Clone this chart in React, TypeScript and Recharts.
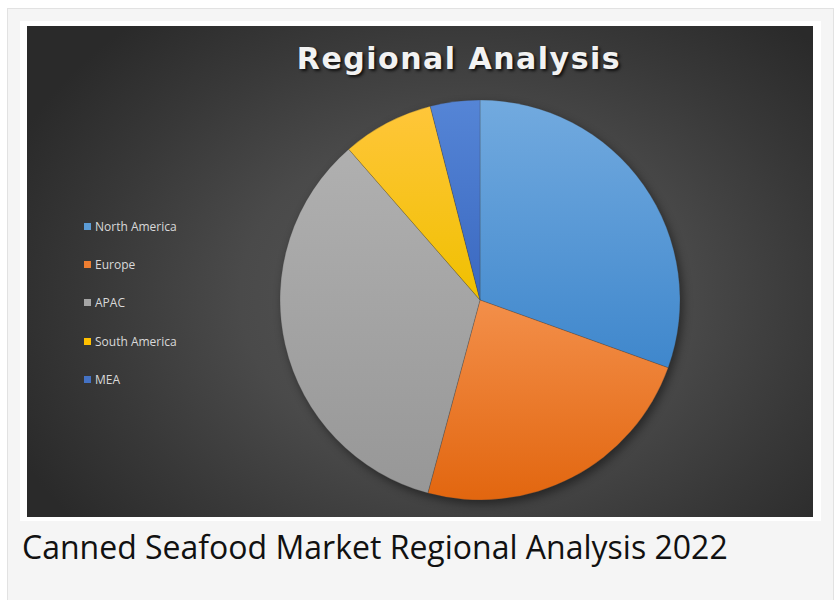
import { Cell, Pie, PieChart } from "recharts";

const regions = ["North America", "Europe", "APAC", "South America", "MEA"];
const shares = [30.5, 23.7, 34.4, 7.4, 4.0];
const swatchColors = ["#5B9BD5", "#ED7D31", "#A5A5A5", "#FFC000", "#4472C4"];
const gradientTops = ["#72aadf", "#f38f4a", "#b0b0b0", "#ffc63a", "#5585d6"];
const gradientBottoms = ["#3f87cc", "#e2660f", "#979797", "#f0c000", "#3a68c0"];

const CHART_LEFT = 27;
const CHART_TOP = 26;
const CHART_W = 786;
const CHART_H = 491;

export default function App() {
  const data = regions.map((name, i) => ({ name, value: shares[i] }));

  return (
    <div
      style={{
        position: "absolute",
        left: 0,
        top: 0,
        width: 836,
        height: 600,
        background: "#ffffff",
        overflow: "hidden",
      }}
    >
      {/* outer card */}
      <div
        style={{
          position: "absolute",
          left: 7,
          top: 8,
          width: 825,
          height: 620,
          background: "#f5f5f5",
          border: "1px solid #e2e2e2",
        }}
      />
      {/* white frame around the picture */}
      <div
        style={{
          position: "absolute",
          left: 20,
          top: 21,
          width: 801,
          height: 500,
          background: "#ffffff",
        }}
      />
      {/* dark chart background */}
      <div
        style={{
          position: "absolute",
          left: CHART_LEFT,
          top: CHART_TOP,
          width: CHART_W,
          height: CHART_H,
          background:
            "radial-gradient(ellipse 62% 75% at 55% 55%, #575757 0%, #4a4a4a 45%, #383838 75%, #2a2a2a 100%)",
        }}
      />

      <div
        style={{
          position: "absolute",
          left: 259,
          top: 44,
          width: 400,
          textAlign: "center",
          fontFamily: "'DejaVu Sans', sans-serif",
          fontWeight: 700,
          fontSize: 30,
          lineHeight: 1,
          letterSpacing: 1.5,
          color: "#f2f2f2",
          textShadow: "2px 2px 3px rgba(0,0,0,0.75)",
          whiteSpace: "nowrap",
        }}
      >
        Regional Analysis
      </div>

      <div
        style={{
          position: "absolute",
          left: CHART_LEFT,
          top: CHART_TOP,
          width: CHART_W,
          height: CHART_H,
          filter: "drop-shadow(3px 4px 5px rgba(0,0,0,0.45))",
        }}
      >
        <PieChart width={CHART_W} height={CHART_H}>
          <defs>
            {regions.map((name, i) => (
              <linearGradient key={name} id={`slice-${i}`} x1="0" y1="0" x2="0" y2="1">
                <stop offset="0%" stopColor={gradientTops[i]} />
                <stop offset="100%" stopColor={gradientBottoms[i]} />
              </linearGradient>
            ))}
          </defs>
          <Pie
            data={data}
            dataKey="value"
            nameKey="name"
            cx={448}
            cy={269}
            outerRadius={200}
            startAngle={90}
            endAngle={-270}
            stroke="rgba(60,60,60,0.35)"
            strokeWidth={0.75}
            isAnimationActive={false}
          >
            {data.map((entry, i) => (
              <Cell key={entry.name} fill={`url(#slice-${i})`} />
            ))}
          </Pie>
        </PieChart>
      </div>

      {/* legend */}
      <div
        style={{
          position: "absolute",
          left: 84,
          top: 207,
          fontFamily: "'Open Sans', sans-serif",
          fontSize: 12,
          color: "#d9d9d9",
        }}
      >
        {regions.map((name, i) => (
          <div
            key={name}
            style={{ display: "flex", alignItems: "center", height: 38.4 }}
          >
            <span
              style={{
                display: "inline-block",
                width: 7,
                height: 7,
                background: swatchColors[i],
                marginRight: 4,
              }}
            />
            <span>{name}</span>
          </div>
        ))}
      </div>

      <div
        style={{
          position: "absolute",
          left: 22,
          top: 531,
          fontFamily: "'Open Sans', sans-serif",
          fontSize: 32,
          lineHeight: 1,
          color: "#111111",
          whiteSpace: "nowrap",
        }}
      >
        Canned Seafood Market Regional Analysis 2022
      </div>
    </div>
  );
}
